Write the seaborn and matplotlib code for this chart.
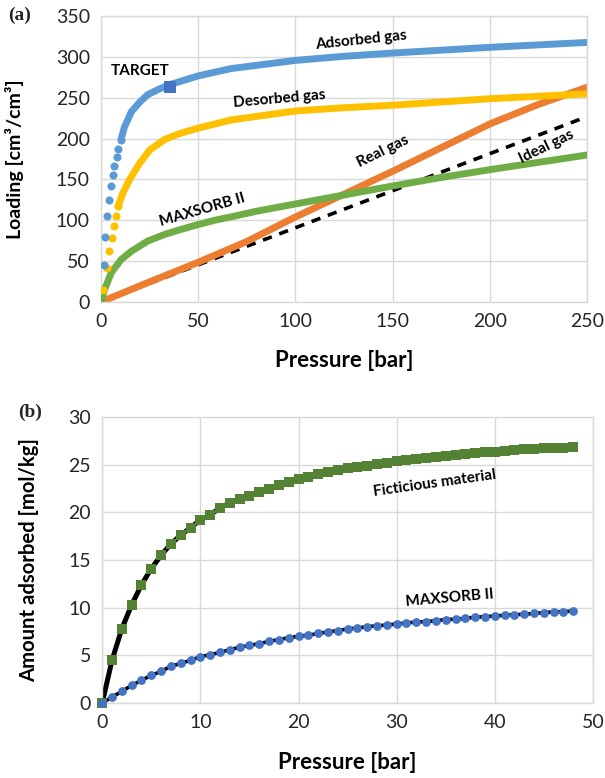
import matplotlib
matplotlib.use("Agg")
import matplotlib.pyplot as plt
import seaborn as sns
import pandas as pd

# ---------------- Panel (a) data ----------------
ads_p = [1.3, 1.8, 3.0, 4.0, 4.9, 6.1, 6.9, 8.1, 8.9, 10.3, 12, 15.6, 20, 24, 30, 35, 50, 67, 100, 125, 150, 175, 200, 225, 250]
ads_q = [45, 79, 105, 125, 142, 156, 167, 178, 187, 199, 214, 233, 245, 254, 261, 266, 277, 286, 296, 301, 305, 308.5, 312, 315, 318]

des_p = [1.0, 3.1, 4.3, 5.4, 6.5, 7.6, 8.7, 11.3, 14.7, 19.9, 25, 32.7, 40, 50, 67, 100, 125, 150, 175, 200, 225, 250]
des_q = [15, 42, 62, 78.5, 93, 105, 117, 133.5, 150, 170, 186, 199, 206, 213, 223, 234, 238, 241, 245, 249, 252, 255]

mx_p = [0, 1.9, 5.3, 10.4, 15.6, 24, 32.7, 41, 50, 58.4, 70.4, 79.8, 100, 125, 150, 175, 200, 225, 250]
mx_q = [0, 15.5, 36, 52, 62, 74.5, 82.6, 88.7, 94.8, 100, 106, 111, 120, 131, 142, 152.5, 162, 171, 180]

real_p = [0, 25, 50, 75, 100, 125, 150, 175, 200, 225, 250]
real_q = [0, 24.5, 48.5, 74, 104, 132, 160, 189, 218, 242, 263]

ideal_p = [0, 250]
ideal_q = [0, 227]

target_p = [35.4]
target_q = [263]

# ---------------- Panel (b) data ----------------
b_p = [0, 1, 2, 3, 4, 5, 6, 7, 8, 9, 10, 11, 12, 13, 14, 15, 16, 17, 18, 19,
       20, 21, 22, 23, 24, 25, 26, 27, 28, 29, 30, 31, 32, 33, 34, 35, 36, 37, 38, 39,
       40, 41, 42, 43, 44, 45, 46, 47, 48]
fict_q = [0, 4.5, 7.8, 10.3, 12.4, 14.1, 15.5, 16.7, 17.6, 18.4,
          19.2, 19.75, 20.45, 21.0, 21.4, 21.75, 22.1, 22.45, 22.9, 23.15,
          23.5, 23.75, 24.0, 24.2, 24.4, 24.6, 24.75, 24.9, 25.05, 25.2,
          25.35, 25.5, 25.6, 25.7, 25.8, 25.9, 26.0, 26.1, 26.2, 26.3,
          26.35, 26.45, 26.5, 26.6, 26.65, 26.7, 26.75, 26.8, 26.85]
maxb_q = [0, 0.63, 1.22, 1.85, 2.38, 2.9, 3.32, 3.85, 4.15, 4.48,
          4.86, 5.07, 5.3, 5.6, 5.84, 6.05, 6.22, 6.47, 6.64, 6.85,
          7.0, 7.1, 7.3, 7.45, 7.6, 7.76, 7.87, 8.0, 8.1, 8.18,
          8.29, 8.39, 8.5, 8.53, 8.64, 8.74, 8.8, 8.88, 9.0, 9.05,
          9.13, 9.2, 9.27, 9.3, 9.4, 9.48, 9.55, 9.58, 9.65]

sns.set_theme(style="whitegrid")
plt.rcParams['font.family'] = ['Lato', 'DejaVu Sans']

GRID = "#d9d9d9"
TXT = "#262626"
BLUE = "#5B9BD5"
YEL = "#FFC000"
GRN = "#70AD47"
ORG = "#ED7D31"

fig = plt.figure(figsize=(6.05, 7.78), dpi=100)
ax1 = fig.add_axes([0.167, 0.612, 0.803, 0.367])
ax2 = fig.add_axes([0.169, 0.0964, 0.811, 0.3676])


def style_axes(ax):
    ax.set_facecolor("white")
    ax.grid(True, color=GRID, lw=1.0)
    for s in ax.spines.values():
        s.set_color(GRID)
        s.set_linewidth(1.0)
    ax.tick_params(axis='both', which='both', length=5, width=1.0, color=GRID,
                   labelsize=14, labelcolor=TXT, pad=3, direction='out')
    ax.set_axisbelow(True)


LW = 5.0
MS = 4.6
line_kw = dict(solid_capstyle='round', solid_joinstyle='round')

# --- panel (a) ---
df_real = pd.DataFrame({"p": real_p, "q": real_q})
sns.lineplot(data=df_real, x="p", y="q", ax=ax1, color=ORG, lw=LW, zorder=2, **line_kw)

df_ideal = pd.DataFrame({"p": ideal_p, "q": ideal_q})
sns.lineplot(data=df_ideal, x="p", y="q", ax=ax1, color="black", lw=2.6,
             linestyle=(0, (2.6, 2.2)), zorder=1.9)

df_mx = pd.DataFrame({"p": mx_p, "q": mx_q})
sns.lineplot(data=df_mx, x="p", y="q", ax=ax1, color=GRN, lw=LW, zorder=3, **line_kw)

df_des = pd.DataFrame({"p": des_p, "q": des_q})
sns.scatterplot(data=df_des.iloc[:7], x="p", y="q", ax=ax1, color=YEL, s=MS**2 * 1.6,
                linewidth=0, zorder=3.5)
sns.lineplot(data=df_des.iloc[6:], x="p", y="q", ax=ax1, color=YEL, lw=LW, zorder=3.5, **line_kw)

df_ads = pd.DataFrame({"p": ads_p, "q": ads_q})
sns.scatterplot(data=df_ads.iloc[:10], x="p", y="q", ax=ax1, color=BLUE, s=MS**2 * 1.6,
                linewidth=0, zorder=4)
sns.lineplot(data=df_ads.iloc[9:], x="p", y="q", ax=ax1, color=BLUE, lw=LW, zorder=4, **line_kw)

df_t = pd.DataFrame({"p": target_p, "q": target_q})
sns.scatterplot(data=df_t, x="p", y="q", ax=ax1, color="#4472C4", marker="s", s=80,
                linewidth=0, zorder=5)

style_axes(ax1)
ax1.set_xlim(0, 250)
ax1.set_ylim(0, 350)
ax1.set_xticks([0, 50, 100, 150, 200, 250])
ax1.set_yticks([0, 50, 100, 150, 200, 250, 300, 350])
ax1.set_xlabel("Pressure [bar]", fontsize=16, fontweight='bold', color="black")
ax1.set_ylabel("Loading [cm³/cm³]", fontsize=14, fontweight='bold', color="black")
ax1.yaxis.set_label_coords(-0.158, 0.5)
ax1.xaxis.set_label_coords(0.5, -0.17)

ann = dict(fontsize=11, fontweight='bold', color="black", ha='center', va='center')
ax1.text(134, 321, "Adsorbed gas", rotation=6, **ann)
ax1.text(20, 283, "TARGET", rotation=0, **ann)
ax1.text(92, 249, "Desorbed gas", rotation=5, **ann)
ax1.text(145, 184, "Real gas", rotation=26, **ann)
ax1.text(229, 190, "Ideal gas", rotation=26, **ann)
ax1.text(52, 113, "MAXSORB II", rotation=16, **ann)

# --- panel (b) ---
df_b = pd.DataFrame({"p": b_p, "fict": fict_q, "maxs": maxb_q})
sns.lineplot(data=df_b, x="p", y="fict", ax=ax2, color="black", lw=3.6, zorder=2, **line_kw)
sns.scatterplot(data=df_b, x="p", y="fict", ax=ax2, color="#548235", marker="s", s=60,
                linewidth=0, zorder=3, clip_on=False)
sns.lineplot(data=df_b, x="p", y="maxs", ax=ax2, color="black", lw=2.6, zorder=2, **line_kw)
sns.scatterplot(data=df_b, x="p", y="maxs", ax=ax2, color="#4472C4", marker="o", s=40,
                linewidth=0, zorder=3, clip_on=False)

style_axes(ax2)
ax2.set_xlim(0, 50)
ax2.set_ylim(0, 30)
ax2.set_xticks([0, 10, 20, 30, 40, 50])
ax2.set_yticks([0, 5, 10, 15, 20, 25, 30])
ax2.set_xlabel("Pressure [bar]", fontsize=16, fontweight='bold', color="black")
ax2.set_ylabel("Amount adsorbed [mol/kg]", fontsize=14.6, fontweight='bold', color="black")
ax2.yaxis.set_label_coords(-0.128, 0.5)
ax2.xaxis.set_label_coords(0.5, -0.172)

ax2.text(33.9, 23.0, "Ficticious material", rotation=8, **ann)
ax2.text(35.4, 11.0, "MAXSORB II", rotation=5, **ann)

serif = ['Liberation Serif', 'DejaVu Serif']
fig.text(20 / 605, 1 - 15 / 778, "(a)", family=serif, fontsize=14, fontweight='bold',
         ha='center', va='center')
fig.text(30 / 605, 1 - 412 / 778, "(b)", family=serif, fontsize=14, fontweight='bold',
         ha='center', va='center')

fig.savefig("out.png", dpi=100)
